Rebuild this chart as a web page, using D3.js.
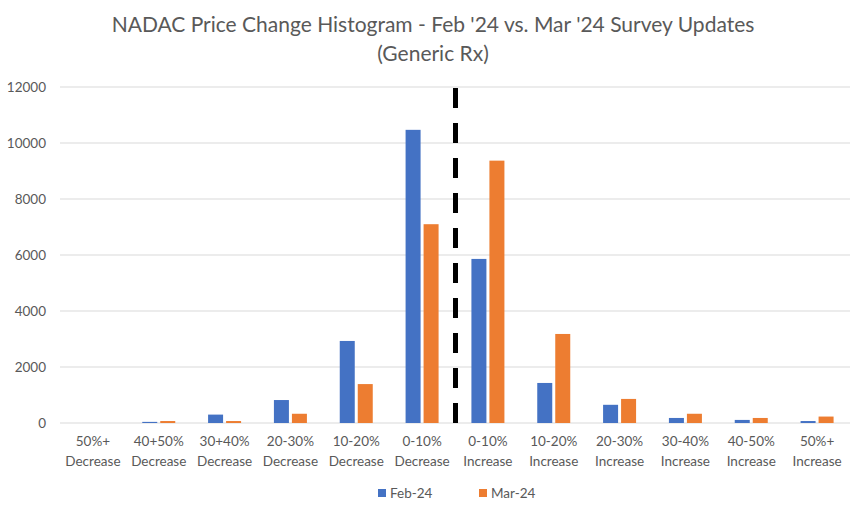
<!DOCTYPE html>
<html><head><meta charset="utf-8">
<script src="https://cdn.jsdelivr.net/npm/d3@7"></script>
<style>body{margin:0;background:#fff}svg{display:block}</style>
</head><body><svg id="c" width="866" height="518"></svg>
<script>
const categories = [
  ["50%+","Decrease"],["40+50%","Decrease"],["30+40%","Decrease"],["20-30%","Decrease"],
  ["10-20%","Decrease"],["0-10%","Decrease"],["0-10%","Increase"],["10-20%","Increase"],
  ["20-30%","Increase"],["30-40%","Increase"],["40-50%","Increase"],["50%+","Increase"]
];
const seriesNames = ["Feb-24","Mar-24"];
const feb24 = [0, 40, 300, 820, 2930, 10470, 5860, 1430, 650, 180, 110, 70];
const mar24 = [0, 70, 70, 330, 1390, 7100, 9370, 3180, 860, 330, 180, 230];
const yTicks = [0, 2000, 4000, 6000, 8000, 10000, 12000];
const titleLines = ["NADAC Price Change Histogram - Feb '24 vs. Mar '24 Survey Updates", "(Generic Rx)"];

const colors = ["#4472C4", "#ED7D31"];
const font = "Lato, 'Open Sans', sans-serif";
const svg = d3.select("#c");
const m = {l: 60, r: 16, t: 87, b: 95};
const W = 866, H = 518;
const x = d3.scaleBand().domain(d3.range(categories.length)).range([m.l, W - m.r]);
const y = d3.scaleLinear().domain([0, 12000]).range([H - m.b, m.t]);

// gridlines
svg.append("g").selectAll("line").data(yTicks).join("line")
  .attr("x1", m.l).attr("x2", W - m.r)
  .attr("y1", d => y(d)).attr("y2", d => y(d))
  .attr("stroke", "#d9d9d9").attr("stroke-width", 1);

// y labels
svg.append("g").selectAll("text").data(yTicks).join("text")
  .attr("x", 46).attr("y", d => y(d)).attr("dy", "0.35em")
  .attr("text-anchor", "end").attr("font-family", font).attr("font-size", 13.5)
  .attr("fill", "#595959").text(d => d);

// bars
const bw = 15, gap = 3;
const x1 = d3.scaleOrdinal().domain([0,1]).range([-(bw + gap/2), gap/2]);
[feb24, mar24].forEach((vals, si) => {
  svg.append("g").selectAll("rect").data(vals).join("rect")
    .attr("x", (d, i) => x(i) + x.bandwidth()/2 + x1(si))
    .attr("width", bw)
    .attr("y", d => y(d)).attr("height", d => y(0) - y(d))
    .attr("fill", colors[si]);
});

// dashed divider line between 0-10% Decrease and 0-10% Increase
const divX = (x(5) + x(6) + x.bandwidth()) / 2 + 0.5;
svg.append("line").attr("x1", divX).attr("x2", divX)
  .attr("y1", y(12000) + 1).attr("y2", y(0))
  .attr("stroke", "#000").attr("stroke-width", 5)
  .attr("stroke-dasharray", "20,15");

// x labels
const xl = svg.append("g").selectAll("text").data(categories).join("text")
  .attr("text-anchor", "middle").attr("font-family", font).attr("font-size", 13.5)
  .attr("fill", "#595959");
xl.each(function(d, i) {
  const t = d3.select(this);
  const cx = x(i) + x.bandwidth()/2;
  t.append("tspan").attr("x", cx).attr("y", 446).text(d[0]);
  t.append("tspan").attr("x", cx).attr("y", 466).text(d[1]);
});

// title
svg.append("g").selectAll("text").data(titleLines).join("text")
  .attr("x", 433).attr("y", (d, i) => 32 + i * 29)
  .attr("text-anchor", "middle").attr("font-family", font).attr("font-size", 21)
  .attr("fill", "#595959").text(d => d);

// legend
const lg = svg.append("g");
const legX = [378, 479];
seriesNames.forEach((n, i) => {
  lg.append("rect").attr("x", legX[i]).attr("y", 489).attr("width", 8).attr("height", 8).attr("fill", colors[i]);
  lg.append("text").attr("x", legX[i] + 12).attr("y", 493).attr("dy", "0.35em")
    .attr("font-family", font).attr("font-size", 13.5).attr("fill", "#595959").text(n);
});
</script></body></html>
